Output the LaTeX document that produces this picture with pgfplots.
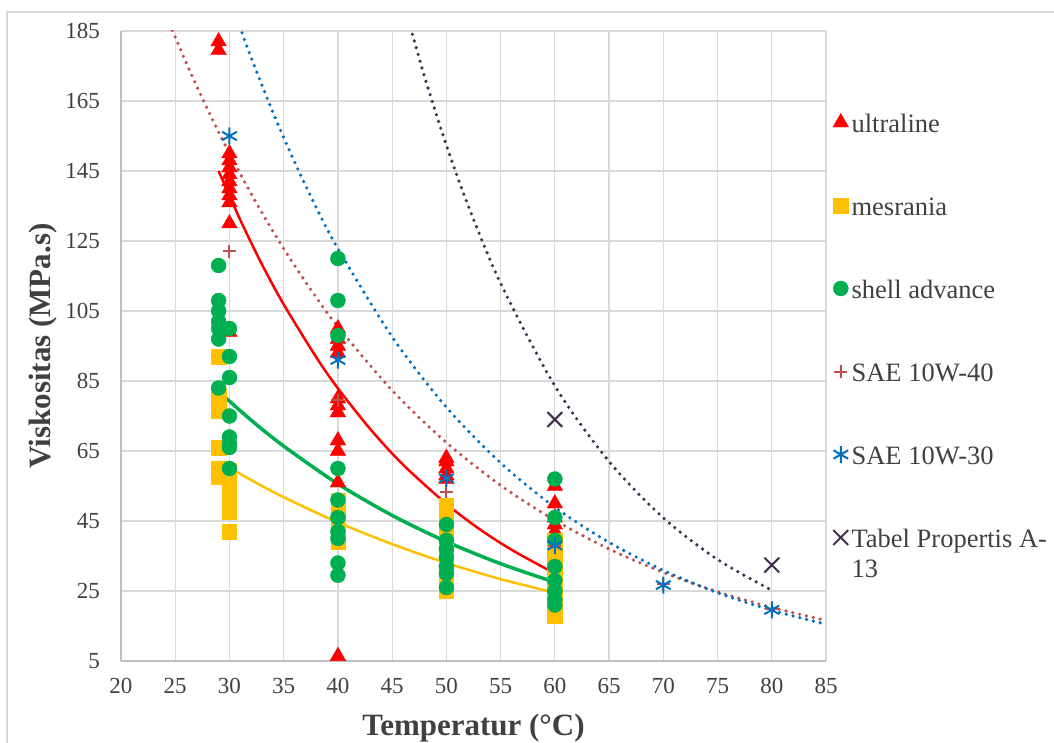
\documentclass[border=0pt]{standalone}
\usepackage{fontspec}
\setmainfont{Liberation Serif}
\usepackage{pgfplots}
\pgfplotsset{compat=1.18}
\definecolor{cUltra}{HTML}{FF0000}
\definecolor{cMes}{HTML}{FFC000}
\definecolor{cShell}{HTML}{00B050}
\definecolor{cFourty}{HTML}{C0504D}
\definecolor{cThirty}{HTML}{0070C0}
\definecolor{cTabel}{HTML}{403152}
\definecolor{cGrid}{HTML}{D9D9D9}
\definecolor{cAxis}{HTML}{BFBFBF}
\definecolor{cText}{HTML}{404040}
\pgfplotsset{
  mk/.style={only marks,
    legend image code/.code={\draw[mark repeat=2,mark phase=2,##1] plot coordinates {(0pt,4pt) (6pt,4pt) (12pt,4pt)};}},
}
\begin{document}
\begin{tikzpicture}
\path[use as bounding box] (-121pt,-81pt) rectangle (933pt,661pt);
\draw[cGrid, line width=1.2pt] (-114pt,-90pt) -- (-114pt,649pt) -- (940pt,649pt);
\begin{axis}[
  at={(0pt,0pt)}, anchor=south west,
  scale only axis, width=705pt, height=630pt,
  xmin=20, xmax=85, ymin=5, ymax=185,
  xtick={20,25,...,85}, ytick={5,25,...,185},
  axis lines=left, axis line style={draw=cAxis, line width=1.2pt, -},
  grid=major, major grid style={draw=cGrid, line width=1.2pt},
  major tick length=0pt,
  /pgf/number format/assume math mode=true,
  ticklabel style={font=\fontsize{23}{27}\selectfont, text=cText, inner sep=0pt},
  yticklabel shift=21pt, xticklabel shift=17pt,
  xlabel={Temperatur (°C)}, ylabel={Viskositas (MPa.s)},
  label style={font=\fontsize{31}{36}\selectfont\bfseries, text=cText},
  xlabel style={at={(axis description cs:0.5,-0.119)}, anchor=base},
  ylabel style={at={(axis description cs:-0.1007,0.5)}, anchor=base},
  legend style={at={(axis description cs:1,1)}, anchor=north west, xshift=7pt, yshift=-82pt,
    draw=none, fill=none, inner sep=0pt, outer sep=0pt, row sep=56pt, column sep=3pt,
    font=\fontsize{26.5}{30}\selectfont, text=cText,
    nodes={inner sep=0pt, text height=19pt, text depth=8pt}, cells={anchor=west}},
  legend cell align=left,
]
% ultraline
\addplot[mk, mark=triangle*, mark size=9pt, mark options={draw=cUltra, fill=cUltra}] coordinates {
(29,182) (29,179.5)
(30,150) (30,148) (30,146) (30,144) (30,142) (30,140) (30,138) (30,136) (30,130) (30,99)
(40,100) (40,97) (40,95) (40,93) (40,80) (40,78) (40,76) (40,68) (40,65) (40,56) (40,6.4)
(50,63) (50,62) (50,60) (50,58) (50,57)
(60,55) (60,50) (60,46) (60,44) (60,42) (60,31)
};
\addlegendentry{ultraline}
% mesrania
\addplot[mk, mark=square*, mark size=7.2pt, mark options={draw=cMes, fill=cMes}] coordinates {
(29,92) (29,81) (29,79) (29,76.5) (29,66) (29,60) (29,57.5)
(30,59.5) (30,57) (30,55) (30,53) (30,51) (30,49) (30,47.5) (30,42)
(40,51) (40,48) (40,45) (40,42) (40,39)
(50,49.5) (50,47) (50,45) (50,42) (50,40) (50,37) (50,35) (50,32) (50,30) (50,27) (50,25)
(60,39.5) (60,37) (60,35) (60,32) (60,30) (60,28) (60,25) (60,23) (60,20.5) (60,18)
};
\addlegendentry{mesrania}
% shell advance
\addplot[mk, mark=*, mark size=7.5pt, mark options={draw=cShell, fill=cShell}] coordinates {
(29,118) (29,108) (29,105) (29,102) (29,100) (29,97) (29,83)
(30,100) (30,92) (30,86) (30,75) (30,69) (30,67) (30,66) (30,60)
(40,120) (40,108) (40,98) (40,60) (40,51) (40,46) (40,42) (40,40) (40,33) (40,29.5)
(50,44) (50,39.5) (50,37) (50,34.5) (50,32) (50,30) (50,26)
(60,57) (60,46) (60,39.5) (60,32) (60,28) (60,25) (60,22.5) (60,21)
};
\addlegendentry{shell advance}
% SAE 10W-40
\addplot[mk, mark=+, mark size=6.5pt, mark options={draw=cFourty, line width=2pt}] coordinates {
(30,122) (40,79.5) (50,53.4) (60,38) (70,27) (80,20)
};
\addlegendentry{SAE 10W-40}
% SAE 10W-30
\addplot[mk, mark=asterisk, mark size=8.5pt, mark options={draw=cThirty, line width=2pt}] coordinates {
(30,155) (40,91) (50,57.2) (60,38) (70,26.7) (80,19.6)
};
\addlegendentry{SAE 10W-30}
% Tabel Propertis A-13
\addplot[mk, mark=x, mark size=10.5pt, mark options={draw=cTabel, line width=2pt}] coordinates {
(60,74) (80,32.4)
};
\addlegendentry{\parbox[t]{250pt}{\raggedright Tabel Propertis A-\\13}}
% trend lines
\addplot[cUltra, line width=2.5pt, smooth, forget plot] coordinates {
(29,145) (31,131.0) (33,118.3) (35,106.9) (38,91.8) (40,82.9) (43,71.2) (46,61.1) (50,49.9) (53,42.8) (56,36.8) (60,30.0)
};
\addplot[cShell, line width=3.5pt, smooth, forget plot] coordinates {
(29,82) (32,73.8) (35,66.4) (40,55.6) (45,46.6) (50,39.1) (55,32.8) (60,27.5)
};
\addplot[cMes, line width=2.5pt, smooth, forget plot] coordinates {
(29,62) (32,56.7) (35,51.8) (40,44.6) (45,38.4) (50,33.0) (55,28.4) (60,24.5)
};
\addplot[cFourty, line width=3.6pt, line cap=round, dash pattern=on 0pt off 7pt, smooth, forget plot] coordinates {
(24,190.7) (26,176) (28,162.5) (30,150) (32,138.5) (34,127.8) (36,118) (38,108.9) (40,100.5) (45,82.3) (50,67.4) (55,55.2) (60,45.2) (65,37.0) (70,30.3) (75,24.8) (80,20.3) (85,16.6)
};
\addplot[cThirty, line width=3.6pt, line cap=round, dash pattern=on 0pt off 7pt, smooth, forget plot] coordinates {
(30.5,190.1) (32,177.4) (34,161.8) (36,147.6) (38,134.6) (40,122.8) (45,97.6) (50,77.5) (55,61.6) (60,48.9) (65,38.9) (70,30.9) (75,24.5) (80,19.5) (85,15.5)
};
\addplot[cTabel, line width=3.6pt, line cap=round, dash pattern=on 0pt off 7pt, smooth, forget plot] coordinates {
(46,193.7) (48,171.8) (50,152.4) (52,135.2) (55,112.9) (60,83.6) (65,62.0) (70,45.9) (75,34.0) (80,25.2)
};
\end{axis}
\end{tikzpicture}
\end{document}
